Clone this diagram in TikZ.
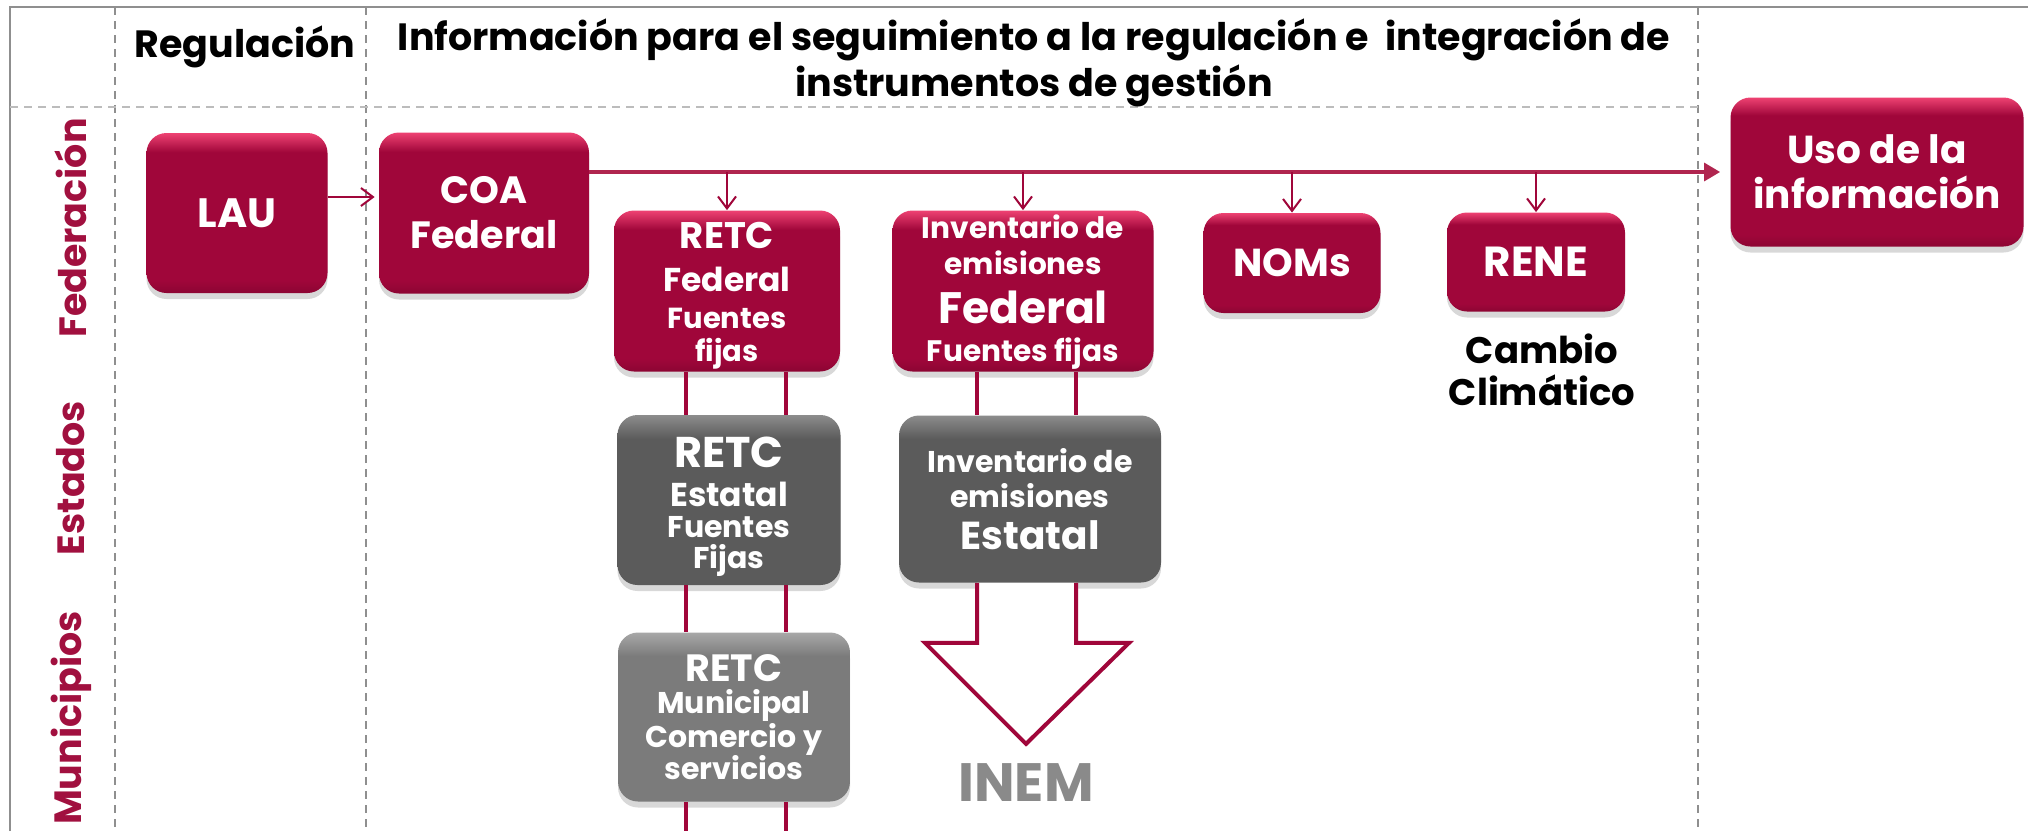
\documentclass[tikz,border=0pt]{standalone}
\usepackage{fontspec}
\setmainfont{Poppins}
\usetikzlibrary{arrows.meta,shadows}

\definecolor{guinda}{HTML}{A0063A}
\definecolor{guindaTop}{HTML}{EE4272}
\definecolor{guindaDark}{HTML}{8C0533}
\definecolor{linea}{HTML}{B0254F}
\definecolor{etiqueta}{HTML}{A1103F}
\definecolor{grisA}{HTML}{5B5B5B}
\definecolor{grisATop}{HTML}{8C8C8C}
\definecolor{grisB}{HTML}{7B7B7B}
\definecolor{grisBTop}{HTML}{A8A8A8}
\definecolor{rejilla}{HTML}{8F8F8F}
\definecolor{inemgris}{HTML}{8A8A8A}

\pgfdeclareverticalshading{guindashade}{100bp}{color(0bp)=(guindaDark); color(25bp)=(guindaDark); color(29bp)=(guinda); color(69bp)=(guinda); color(75bp)=(guindaTop); color(100bp)=(guindaTop)}
\pgfdeclareverticalshading{grisashade}{100bp}{color(0bp)=(grisA); color(25bp)=(grisA); color(68bp)=(grisA); color(75bp)=(grisATop); color(100bp)=(grisATop)}
\pgfdeclareverticalshading{grisbshade}{100bp}{color(0bp)=(grisB); color(25bp)=(grisB); color(68bp)=(grisB); color(75bp)=(grisBTop); color(100bp)=(grisBTop)}

\newcommand{\fsz}[2]{\fontsize{#1}{#2}\selectfont}

\begin{document}
\begin{tikzpicture}[x=0.5pt, y=-0.5pt,
  caja/.style={rounded corners=10pt, align=center, text=white, inner sep=0pt,
    drop shadow={opacity=0.3, shadow xshift=0pt, shadow yshift=-3pt}},
  cajaroja/.style 2 args={caja, shading=guindashade, minimum width=#1, minimum height=#2},
  cajagris/.style 2 args={caja, shading=grisashade, minimum width=#1, minimum height=#2},
  cajagrisclara/.style 2 args={caja, shading=grisbshade, minimum width=#1, minimum height=#2},
  encabezado/.style={font=\bfseries\fsz{19}{23}, align=center},
  nivel/.style={rotate=90, text=etiqueta, font=\bfseries\fsz{19}{22}},
  guiones/.style={rejilla, dashed, dash pattern=on 4pt off 3pt, line width=0.7pt},
  flecha/.style={guinda, line width=1pt, -{Straight Barb[length=6pt,width=9pt]}},
  doble/.style={guinda, line width=2pt}]

\useasboundingbox (0,0) rectangle (2028,831);
\fill[white] (0,0) rectangle (2028,831);

\draw[rejilla, line width=1.4pt] (10,831) -- (10,7) -- (2028,7);
\foreach \x in {115,366,1698}
  \draw[guiones] (\x,7) -- (\x,831);
\draw[guiones, rejilla!60] (10,107) -- (1698,107);

\node[encabezado] (reg) at (245,47) {Regulación};
\node[encabezado] (tit) at (1034,63) {Información para el seguimiento a la regulación e~ integración de\\instrumentos de gestión};

\node[nivel] (fed) at (71,228) {Federación};
\node[nivel] (est) at (71,478) {Estados};
\node[nivel] (mun) at (71,718) {Municipios};

\node[cajaroja={90.5pt}{80pt}, font=\bfseries\fsz{20.5}{22}] (lau) at (237,213) {LAU};
\node[cajaroja={105pt}{80.5pt}, font=\bfseries\fsz{19}{22.5}] (coa) at (484,213) {COA\\Federal};
\node[cajaroja={113pt}{80.5pt}, font=\bfseries\fsz{14.5}{16.5}] (retcfed) at (727,291)
  {\fsz{18.5}{16.5}\rule{0pt}{18pt}RETC\\[5pt]\fsz{16.5}{16.5}Federal\\[2pt]Fuentes\\fijas};
\node[cajaroja={130.5pt}{80.5pt}, font=\bfseries\fsz{14.8}{18}] (invfed) at (1023,291)
  {\rule{0pt}{13pt}Inventario de\\emisiones\\[6.5pt]\fsz{22}{18}Federal\\[1pt]Fuentes fijas};
\node[cajaroja={88.5pt}{50pt}, font=\bfseries\fsz{19.5}{22}] (noms) at (1292,263) {NOMs};
\node[cajaroja={89pt}{49.5pt}, font=\bfseries\fsz{21}{22}] (rene) at (1536,262) {RENE};
\node[cajaroja={146.5pt}{74.5pt}, font=\bfseries\fsz{19.5}{22.5}] (uso) at (1877,172) {Uso de la\\información};

\node[font=\bfseries\fsz{18.5}{21}, align=center] (cambio) at (1542,370) {Cambio\\Climático};

\node[cajagris={111.5pt}{85pt}, font=\bfseries\fsz{15}{15.5}] (retcest) at (729,500)
  {\fsz{21.5}{15.5}\rule{0pt}{21.5pt}RETC\\[4pt]\fsz{16.5}{15.5}Estatal\\Fuentes\\Fijas};
\node[cajagris={131pt}{83.5pt}, font=\bfseries\fsz{15}{17.5}] (invest) at (1030,499)
  {Inventario de\\emisiones\\[3.5pt]\fsz{19.5}{17.5}Estatal};
\node[cajagrisclara={116pt}{84.5pt}, font=\bfseries\fsz{15}{16}] (retcmun) at (734,717)
  {\fsz{19}{16}RETC\\Municipal\\Comercio y\\servicios};

\node[text=inemgris, font=\bfseries\fsz{27}{28}] (inem) at (1026,783) {INEM};

\coordinate (pie) at (0,831);

\draw[flecha] ([yshift=8pt]lau.east) -- ([yshift=8pt,xshift=-2pt]lau.east -| coa.west);

\coordinate (bus) at (coa.east |- uso.west);
\draw[linea, line width=1.6pt, -{Triangle[length=8pt,width=9pt]}] (bus) -- ([xshift=-5pt]uso.west);
\foreach \n in {retcfed,invfed,noms,rene}
  \draw[flecha] (\n.north |- bus) -- (\n.north);

\foreach \dx in {-20.5pt,29.5pt} {
  \draw[doble] ([xshift=\dx]retcfed.south) -- ([xshift=\dx]retcfed.south |- retcest.north);
  \draw[doble] ([xshift=\dx]retcfed.south |- retcest.south) -- ([xshift=\dx]retcfed.south |- retcmun.north);
  \draw[doble] ([xshift=\dx]retcfed.south |- retcmun.south) -- ([xshift=\dx]retcfed.south |- pie);
}
\foreach \dx in {-23pt,26.5pt}
  \draw[doble] ([xshift=\dx]invfed.south) -- ([xshift=\dx]invfed.south |- invest.north);

\draw[doble, line join=miter, fill=white] ([xshift=-23pt]invfed.south |- invest.south) -- ++(0,60) -- ++(-52,0)
  -- ++(101,101) -- ++(103,-101) -- ++(-53,0) -- ([xshift=26.5pt]invfed.south |- invest.south);

\end{tikzpicture}
\end{document}
